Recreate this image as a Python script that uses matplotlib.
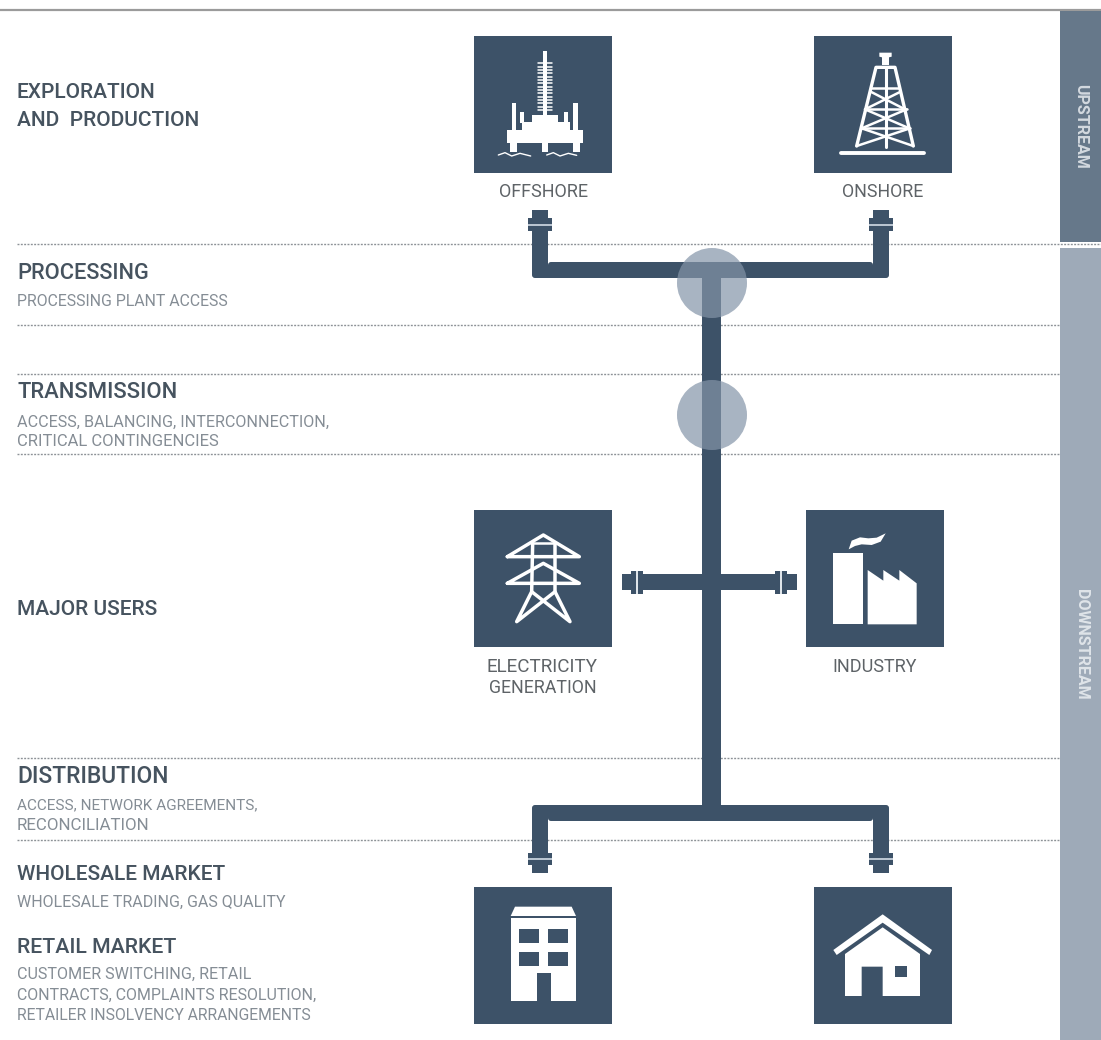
#!/usr/bin/env python3
"""Gas supply chain diagram, drawn in image pixel coordinates."""

import matplotlib

matplotlib.use("Agg")
import matplotlib.pyplot as plt
from matplotlib.patches import Circle, PathPatch, Polygon, Rectangle
from matplotlib.path import Path

WIDTH = 1101
HEIGHT = 1040

NAVY = "#3d5268"
HEADING = "#46535f"
SUBTEXT = "#858d95"
CAPTION = "#5e6367"
DOTS = "#8d9297"
FONT = "Roboto"

# left column
HEADINGS = ["EXPLORATION", "AND  PRODUCTION", "PROCESSING", "TRANSMISSION",
            "MAJOR USERS", "DISTRIBUTION", "WHOLESALE MARKET", "RETAIL MARKET"]
HEADING_Y = [98, 126, 279, 398, 615, 783, 880, 953]
HEADING_SIZE = [15, 15, 15.7, 15.8, 15, 16.5, 15, 15.3]  # original font is wider on I
SUBS = ["PROCESSING PLANT ACCESS", "ACCESS, BALANCING, INTERCONNECTION,",
        "CRITICAL CONTINGENCIES", "ACCESS, NETWORK AGREEMENTS,", "RECONCILIATION",
        "WHOLESALE TRADING, GAS QUALITY", "CUSTOMER SWITCHING, RETAIL",
        "CONTRACTS, COMPLAINTS RESOLUTION,", "RETAILER INSOLVENCY ARRANGEMENTS"]
SUB_Y = [305.5, 426.5, 446, 809, 830, 906.5, 979, 1000, 1020]
SUB_SIZE = [11.4, 11.6, 12.0, 11.1, 12.2, 11.5, 11.6, 11.5, 11.3]

# icon captions
CAPTIONS = ["OFFSHORE", "ONSHORE", "ELECTRICITY", "GENERATION", "INDUSTRY"]
CAPTION_X = [543, 883, 542.5, 543, 875]
CAPTION_Y = [197, 197, 672, 693, 672]
CAPTION_SIZE = [13, 12.8, 13.6, 12.8, 13]

# icon boxes, left/top corner
BOX_X = [474, 814, 474, 806, 474, 814]
BOX_Y = [36, 36, 510, 510, 887, 887]
BOX_SIZE = 138

DOT_Y = [325, 374, 454, 758, 840]
SIDE_LABELS = ["UPSTREAM", "DOWNSTREAM"]
SIDE_Y = [126.5, 644]
SIDE_COLOR = ["#d3d9df", "#dfe4e9"]
CIRCLE_Y = [283, 415]


def zoom_pts(points, x0, y0):
    return [(x0 + x / 3, y0 + y / 3) for x, y in points]


def white_poly(ax, points, x0, y0, color="white"):
    ax.add_patch(Polygon(zoom_pts(points, x0, y0), closed=True, fc=color, ec="none", zorder=4))


def white_line(ax, points, x0, y0, lw=1.5):
    pts = zoom_pts(points, x0, y0)
    ax.plot([p[0] for p in pts], [p[1] for p in pts], color="white", lw=lw,
            solid_capstyle="round", solid_joinstyle="round", zorder=4)


def bracket(ax, left, right, leg_w, bar_top, bar_bot, leg_end, corner=3):
    """U-shaped pipe with rounded corners, opening towards leg_end."""
    up = leg_end < bar_top
    outer = bar_bot if up else bar_top
    inner = bar_top if up else bar_bot
    s = 1 if up else -1
    verts = [
        (left, leg_end), (left, outer - s * corner), (left, outer), (left + corner, outer),
        (right - corner, outer), (right, outer), (right, outer - s * corner), (right, leg_end),
        (right - leg_w, leg_end), (right - leg_w, inner + s * corner), (right - leg_w, inner),
        (right - leg_w - corner, inner), (left + leg_w + corner, inner), (left + leg_w, inner),
        (left + leg_w, inner + s * corner), (left + leg_w, leg_end), (left, leg_end),
    ]
    codes = [Path.MOVETO, Path.LINETO, Path.CURVE3, Path.CURVE3, Path.LINETO, Path.CURVE3,
             Path.CURVE3, Path.LINETO, Path.LINETO, Path.LINETO, Path.CURVE3, Path.CURVE3,
             Path.LINETO, Path.CURVE3, Path.CURVE3, Path.LINETO, Path.CLOSEPOLY]
    ax.add_patch(PathPatch(Path(verts, codes), fc=NAVY, ec="none", zorder=3))


def flange_v(ax, cx, top, bot, gap_y, cap_y0, cap_y1):
    """Vertical pipe end: wide flange with light seam and a narrower cap."""
    ax.add_patch(Rectangle((cx - 12, top), 24, bot - top, fc=NAVY, ec="none", zorder=3))
    ax.add_patch(Rectangle((cx - 12, gap_y - 1), 24, 2, fc="#b9c4d0", ec="none", zorder=4))
    ax.add_patch(Rectangle((cx - 8, cap_y0), 16, cap_y1 - cap_y0, fc=NAVY, ec="none", zorder=3))


def flange_h(ax, x0, x1, seam_x, cap_x0, cap_x1):
    ax.add_patch(Rectangle((x0, 571), x1 - x0, 23, fc=NAVY, ec="none", zorder=3))
    ax.add_patch(Rectangle((seam_x - 1, 571), 2, 23, fc="#dfe5ea", ec="none", zorder=4))
    ax.add_patch(Rectangle((cap_x0, 574), cap_x1 - cap_x0, 16, fc=NAVY, ec="none", zorder=3))


def draw_offshore(ax):
    x0, y0 = 460, 20
    for rect in [(248, 92, 262, 285), (155, 250, 168, 335), (340, 250, 353, 335),
                 (180, 275, 192, 310), (312, 275, 325, 310), (150, 360, 172, 395),
                 (245, 360, 265, 397), (338, 360, 360, 395)]:
        xa, ya, xb, yb = rect
        white_poly(ax, [(xa, ya), (xb, ya), (xb, yb), (xa, yb)], x0, y0)
    white_poly(ax, [(140, 330), (185, 330), (185, 305), (215, 305), (215, 285), (295, 285),
                    (295, 305), (330, 305), (330, 330), (368, 330), (368, 368), (140, 368)], x0, y0)
    rib = 130
    while rib < 275:
        white_line(ax, [(234, rib), (276, rib)], x0, y0, lw=1.1)
        rib += 10
    white_line(ax, [(115, 405), (135, 398), (155, 408), (180, 400), (212, 408)], x0, y0, lw=1)
    white_line(ax, [(260, 405), (280, 398), (300, 408), (325, 400), (350, 406)], x0, y0, lw=1)


def draw_onshore(ax):
    x0, y0 = 460, 20
    white_poly(ax, [(1258, 98), (1295, 98), (1295, 110), (1287, 112), (1287, 135), (1266, 135),
                    (1266, 112), (1258, 110)], x0, y0)
    white_line(ax, [(1190, 378), (1248, 142), (1305, 142), (1360, 378)], x0, y0, lw=2.4)
    white_line(ax, [(1277, 142), (1277, 382)], x0, y0, lw=2.2)
    for pts in [[(1235, 205), (1318, 205)],
                [(1232, 215), (1335, 268)], [(1322, 215), (1215, 268)],
                [(1215, 268), (1340, 268)], [(1215, 268), (1348, 325)],
                [(1340, 268), (1205, 325)], [(1205, 325), (1350, 325)],
                [(1205, 325), (1360, 378)], [(1350, 325), (1190, 378)]]:
        white_line(ax, pts, x0, y0, lw=1.8)
    white_line(ax, [(1142, 398), (1393, 398)], x0, y0, lw=2.8)


def draw_pylon(ax):
    x0, y0 = 460, 500
    lw = 2.5
    for y_peak, y_arm in [(105, 170), (190, 250)]:
        white_line(ax, [(142, y_arm), (250, y_peak), (358, y_arm), (142, y_arm)], x0, y0, lw=lw)
    white_line(ax, [(218, 130), (215, 275), (170, 365), (285, 275), (285, 130)], x0, y0, lw=lw)
    white_line(ax, [(215, 275), (330, 365), (285, 275)], x0, y0, lw=lw)
    white_line(ax, [(218, 130), (285, 130)], x0, y0, lw=1.8)


def draw_factory(ax):
    x0, y0 = 460, 500
    white_poly(ax, [(1120, 160), (1208, 160), (1208, 373), (1120, 373)], x0, y0)
    white_poly(ax, [(1223, 373), (1223, 210), (1270, 242), (1270, 210), (1318, 242), (1318, 210),
                    (1370, 250), (1370, 373)], x0, y0)
    white_poly(ax, [(1166, 148), (1175, 122), (1200, 112), (1225, 115), (1250, 113), (1277, 100),
                    (1262, 125), (1235, 135), (1205, 133), (1185, 138)], x0, y0)


def draw_building(ax):
    x0, y0 = 460, 790
    white_poly(ax, [(165, 350), (335, 350), (348, 378), (152, 378)], x0, y0)
    white_poly(ax, [(152, 385), (348, 385), (348, 632), (272, 632), (272, 550), (230, 550),
                    (230, 632), (152, 632)], x0, y0)
    for xa, ya in [(178, 418), (264, 418), (178, 485), (264, 485)]:
        white_poly(ax, [(xa, ya), (xa + 59, ya), (xa + 59, ya + 42), (xa, ya + 42)], x0, y0, color=NAVY)


def draw_house(ax):
    x0, y0 = 460, 790
    white_poly(ax, [(1120, 480), (1268, 373), (1416, 480), (1408, 495), (1268, 398), (1130, 495)], x0, y0)
    white_poly(ax, [(1155, 492), (1268, 412), (1380, 492), (1380, 618), (1268, 618), (1268, 530),
                    (1205, 530), (1205, 618), (1155, 618)], x0, y0)
    white_poly(ax, [(1305, 528), (1342, 528), (1342, 560), (1305, 560)], x0, y0, color=NAVY)


def main():
    plt.rcParams["font.family"] = [FONT, "DejaVu Sans"]
    fig = plt.figure(figsize=(WIDTH / 100, HEIGHT / 100), dpi=100)
    ax = fig.add_axes([0, 0, 1, 1])
    ax.set_xlim(0, WIDTH)
    ax.set_ylim(HEIGHT, 0)
    ax.axis("off")

    # frame: top rule and side panels
    ax.plot([0, WIDTH], [9.5, 9.5], color="#9b9b9b", lw=1.6, zorder=1)
    ax.add_patch(Rectangle((1060, 11), 41, 231, fc="#66788a", ec="none", zorder=1))
    ax.add_patch(Rectangle((1060, 248), 41, 792, fc="#9eaab8", ec="none", zorder=1))
    for label, y, color in zip(SIDE_LABELS, SIDE_Y, SIDE_COLOR):
        ax.text(1081, y, label, rotation=-90, ha="center", va="center", color=color,
                fontsize=11.5, fontweight="bold")

    # dotted separators
    dash = (0, (1.4, 1.0))
    ax.plot([17, WIDTH], [243.5, 243.5], color=DOTS, lw=1.0, ls=dash, zorder=2)
    for y in DOT_Y:
        ax.plot([17, 1060], [y, y], color=DOTS, lw=1.0, ls=dash, zorder=2)

    # left column text
    for label, y, size in zip(HEADINGS, HEADING_Y, HEADING_SIZE):
        ax.text(17, y, label, fontsize=size, fontweight="medium", color=HEADING, va="baseline")
    for label, y, size in zip(SUBS, SUB_Y, SUB_SIZE):
        ax.text(17, y, label, fontsize=size, color=SUBTEXT, va="baseline")

    # boxes and icons
    for x, y in zip(BOX_X, BOX_Y):
        ax.add_patch(Rectangle((x, y), BOX_SIZE, BOX_SIZE - 1, fc=NAVY, ec="none", zorder=3))
    draw_offshore(ax)
    draw_onshore(ax)
    draw_pylon(ax)
    draw_factory(ax)
    draw_building(ax)
    draw_house(ax)
    for label, x, y, size in zip(CAPTIONS, CAPTION_X, CAPTION_Y, CAPTION_SIZE):
        ax.text(x, y, label, fontsize=size, color=CAPTION, ha="center", va="baseline")

    # pipes
    ax.add_patch(Rectangle((702, 270), 19, 545, fc=NAVY, ec="none", zorder=3))
    bracket(ax, 532, 889, 16, 262, 278, 228)
    bracket(ax, 532, 889, 16, 805, 821, 856)
    ax.add_patch(Rectangle((632, 574), 155, 16, fc=NAVY, ec="none", zorder=3))
    for cx in (540, 881):
        flange_v(ax, cx, 218, 231, 224.5, 210, 218)
        flange_v(ax, cx, 853, 865, 858.5, 865, 873)
    flange_h(ax, 631, 643, 637, 622, 632)
    flange_h(ax, 775, 787, 781, 786, 797)

    # translucent junctions
    for y in CIRCLE_Y:
        ax.add_patch(Circle((712, y), 35, fc="#8494a8", alpha=0.7, ec="none", zorder=5))

    fig.savefig("out.png", dpi=100, facecolor="white")


if __name__ == "__main__":
    main()
